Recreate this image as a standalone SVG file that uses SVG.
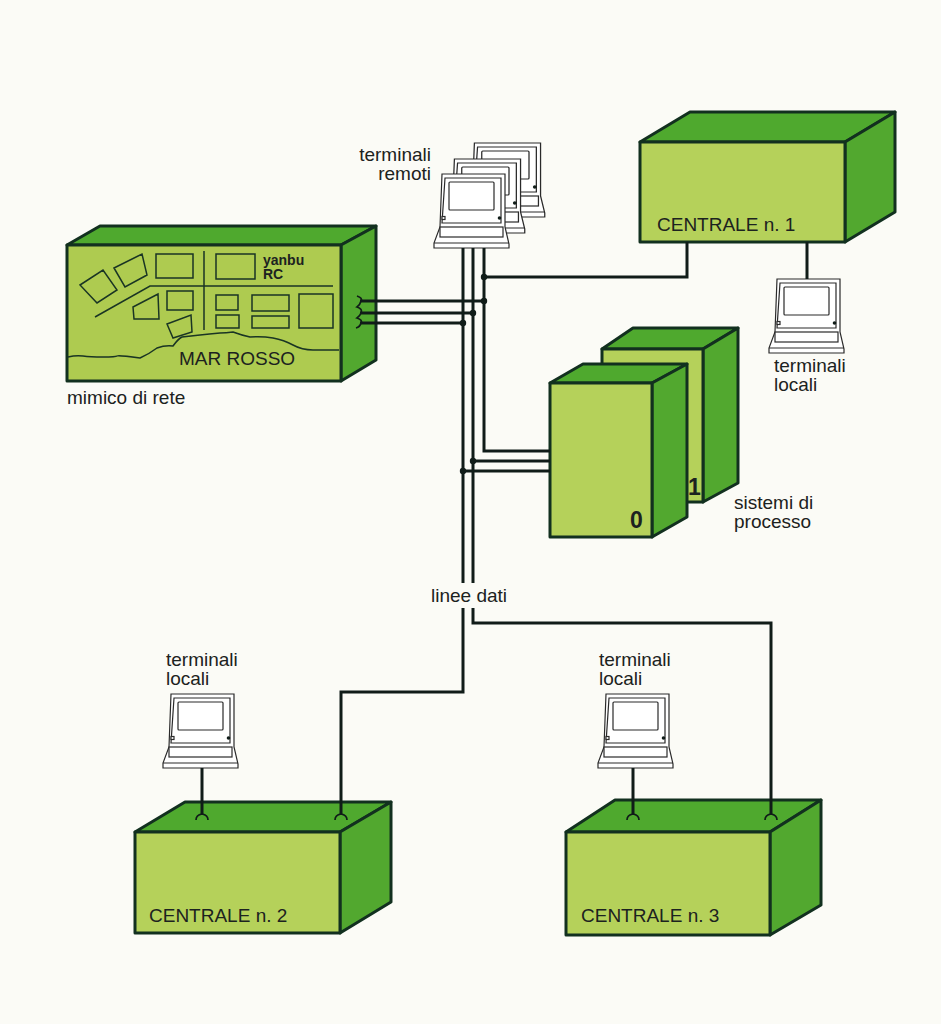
<svg xmlns="http://www.w3.org/2000/svg" width="941" height="1024" viewBox="0 0 941 1024">
<style>
text{font-family:"Liberation Sans",Arial,sans-serif;font-size:19px;fill:#1c2220}
.b{stroke:#12301f;stroke-width:3;stroke-linejoin:round}
.top{fill:#4fa92e}.side{fill:#52a82f}.front{fill:#b5d15a}
.m{fill:none;stroke:#1a3524;stroke-width:1.5}
.w{fill:none;stroke:#101c18;stroke-width:3}
.cup{fill:none;stroke:#101c18;stroke-width:1.7}
.d{fill:#101c18}
.t{fill:#fff;stroke:#2a2a2a;stroke-width:1.2}
.s{font-size:14px;font-weight:700}
.n{font-size:23px;font-weight:700}
</style>
<defs>
<g id="term">
<path class="t" d="M8,0H71V53L75,70V74H0V69L6,53Z"/>
<path class="t" fill="none" d="M0,69H75"/>
<path class="t" d="M11,4H67V49H8Z"/>
<rect class="t" x="15" y="8" width="45" height="28" rx="1"/>
<rect class="t" x="6" y="53" width="63" height="10"/>
<circle class="d" cx="65.500" cy="44" r="1.800"/>
<rect class="t" x="8" y="42.500" width="3" height="3"/>
</g>
</defs>
<rect width="941" height="1024" fill="#fbfbf6"/>
<g id="mimico">
<path class="top b" d="M67,245L100,226H376L341,245Z"/>
<path class="side b" d="M341,245L376,226V360L341,381Z"/>
<rect class="front b" x="67" y="245" width="274" height="136" style="fill:#aecb50"/>
<path class="m" d="M80,285L103,270L117,290L97,303ZM114,268L142,254L147,275L125,287ZM156,254H193V278H156ZM216,254H255V279H216ZM204,251V330M95,317L150,286H333M133,307L158,294L159,319L134,319ZM167,291H193V310H167ZM167,324L191,315L192,332L173,338ZM216,295H238V310H216ZM216,315H239V328H216ZM252,295H289V311H252ZM252,316H289V328H252ZM299,294H333V328H299Z"/>
<path class="m" d="M68,357q8,-2 15,-1t20,1t14,-1t23,2q9,-4 17,-10q8,-3 16,-2q5,-7 9,-9q9,-1 18,-2t20,-2q6,0 13,-1q8,3 17,5q12,-1 23,1t20,7t20,5t26,0"/>
<text class="s" x="263" y="265">yanbu</text>
<text class="s" x="263" y="279">RC</text>
<text x="179" y="365">MAR ROSSO</text>
<text x="67" y="404">mimico di rete</text>
</g>
<g id="terminali-remoti">
<use href="#term" transform="translate(466,143) scale(1.05,1)"/>
<use href="#term" transform="translate(446,159) scale(1.05,1)"/>
<use href="#term" x="434" y="174"/>
<text x="431" y="161" text-anchor="end">terminali</text>
<text x="431" y="180" text-anchor="end">remoti</text>
</g>
<g id="centrale-1">
<path class="top b" d="M640,142L690,112H895L845,142Z"/>
<path class="side b" d="M845,142L895,112V212L845,242Z"/>
<rect class="front b" x="640" y="142" width="205" height="100"/>
<text x="657" y="231">CENTRALE n. 1</text>
</g>
<g id="terminali-locali-1">
<use href="#term" x="769" y="279"/>
<text x="774" y="372">terminali</text>
<text x="774" y="391">locali</text>
</g>
<g id="sistema-1">
<path class="top b" d="M602,349L633,328H738L703,349Z"/>
<path class="side b" d="M703,349L738,328V483L703,502Z"/>
<rect class="front b" x="602" y="349" width="101" height="153"/>
</g>
<g id="sistema-0">
<path class="top b" d="M550,383L583,364H687L652,383Z"/>
<path class="side b" d="M652,383L687,364V517L652,537Z"/>
<rect class="front b" x="550" y="383" width="102" height="154"/>
<text class="n" x="630" y="528">0</text>
</g>
<text class="n" id="label-1" x="688" y="495">1</text>
<text id="label-sistemi" x="734" y="509">sistemi di<tspan x="734" y="528">processo</tspan></text>
<text id="label-linee" x="431" y="602">linee dati</text>
<g id="centrale-2">
<path class="top b" d="M135,832L185,802H391L340,832Z"/>
<path class="side b" d="M340,832L391,802V902L340,933Z"/>
<rect class="front b" x="135" y="832" width="205" height="101"/>
<text x="149" y="922">CENTRALE n. 2</text>
</g>
<g id="terminali-locali-2">
<use href="#term" x="163" y="694"/>
<text x="166" y="666">terminali</text>
<text x="166" y="685">locali</text>
</g>
<g id="centrale-3">
<path class="top b" d="M566,832L615,800H821L770,832Z"/>
<path class="side b" d="M770,832L821,800V905L770,935Z"/>
<rect class="front b" x="566" y="832" width="204" height="103"/>
<text x="581" y="922">CENTRALE n. 3</text>
</g>
<g id="terminali-locali-3">
<use href="#term" x="598" y="694"/>
<text x="599" y="666">terminali</text>
<text x="599" y="685">locali</text>
</g>
<g id="connectors">
<path class="w" d="M484,248V451H550M473,248V583M473,608V623H771V815M463,248V583M463,608V692H341V815M484,277H687V242M360,301H484M360,313H473M360,323H463M473,461H550M463,471H550M807,242V279M202,768V815M633,768V815"/>
<path class="cup" d="M357,296Q363,298 361,301Q360,305 357,307Q363,309 361,313Q360,316 357,318Q363,320 361,323Q360,327 356,328"/>
<path class="cup" d="M196,820q0,-5 6,-6q6,1 6,6M335,820q0,-5 6,-6q6,1 6,6M627,820q0,-5 6,-6q6,1 6,6M765,820q0,-5 6,-6q6,1 6,6"/>
<circle class="d" cx="484" cy="301" r="3.200"/><circle class="d" cx="473" cy="313" r="3.200"/><circle class="d" cx="463" cy="323" r="3.200"/><circle class="d" cx="484" cy="277" r="3.200"/><circle class="d" cx="473" cy="461" r="3.200"/><circle class="d" cx="463" cy="471" r="3.200"/>
</g>
</svg>
